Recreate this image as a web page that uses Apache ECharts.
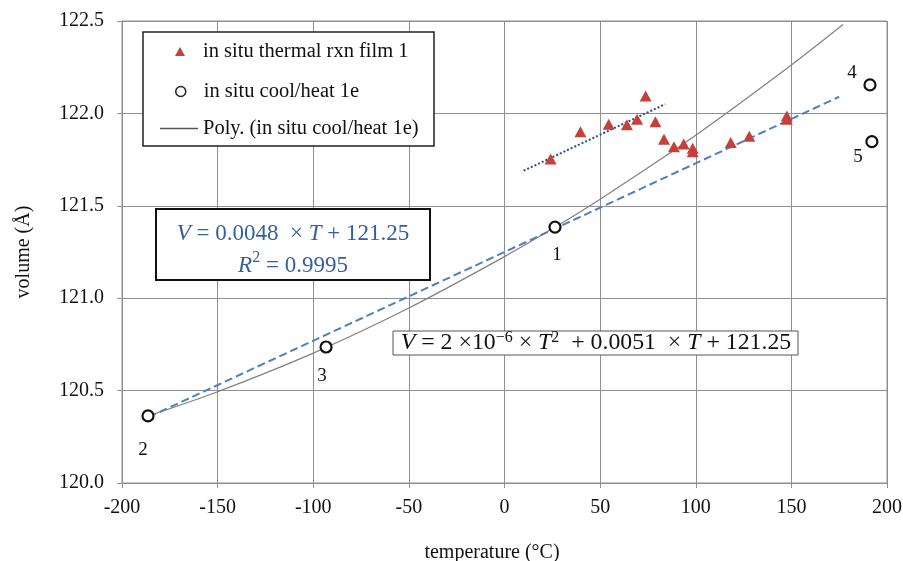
<!DOCTYPE html>
<html>
<head>
<meta charset="utf-8">
<script src="https://cdn.jsdelivr.net/npm/echarts@6/dist/echarts.min.js"></script>
<style>
  html, body { margin: 0; padding: 0; background: #fff; }
  #chart { width: 903px; height: 561px; }
</style>
</head>
<body>
<div id="chart"></div>
<script>
// In situ thermal reaction film 1: temperature (°C) and unit-cell volume (Å^3)
const rxnT = [24.1, 39.7, 54.5, 64.0, 69.3, 73.8, 78.9, 83.4, 88.6, 93.7, 98.4, 98.4, 118.3, 128.0, 147.6, 147.6];
const rxnV = [121.753, 121.901, 121.941, 121.939, 121.968, 122.094, 121.955, 121.860, 121.820, 121.834, 121.811, 121.793, 121.842, 121.876, 121.986, 121.968];

// In situ cool/heat 1e, numbered in measurement order
const coolT = [26.4, -186.4, -93.3, 191.1, 192.1];
const coolV = [121.385, 120.363, 120.736, 122.154, 121.847];
const coolIds = ['1', '2', '3', '4', '5'];

// Polynomial trend line through the cool/heat points
const polyT = [-186, -150, -100, -50, 0, 26, 50, 100, 150, 177];
const polyV = [120.364, 120.494, 120.703, 120.947, 121.225, 121.382, 121.536, 121.882, 122.262, 122.481];

// Linear fit, V = 0.0048 T + 121.25
const linT = [-186, 175];
const linV = [120.357, 122.09];

// Linear trend of the reaction film points
const dotT = [10, 84];
const dotV = [121.69, 122.05];

const xTicks = [-200, 200, 50];
const yTicks = [120, 122.5, 0.5];

const seriesNames = ['in situ thermal rxn film 1', 'in situ cool/heat 1e', 'Poly. (in situ cool/heat 1e)'];

// label placement around each numbered point (pixels)
const idOffsets = [[2, 28], [-5, 34], [-4, 29], [-18, -12], [-14, 15]];

const zip = (a, b) => a.map((v, i) => [v, b[i]]);
const serif = "'Liberation Serif', 'Times New Roman', serif";
const gridColor = '#8f8f8f';
const ink = '#111111';
const red = '#c4403b';

const chart = echarts.init(document.getElementById('chart'), null, { renderer: 'canvas' });

const legendText = { fontFamily: serif, fontSize: 20.5, color: ink, lineHeight: 20 };

chart.setOption({
  animation: false,
  backgroundColor: '#ffffff',
  grid: {
    left: 122, right: 16, top: 21, bottom: 78, outerBoundsMode: 'none',
    show: true, borderColor: gridColor, borderWidth: 1, backgroundColor: 'transparent'
  },
  xAxis: {
    type: 'value', min: xTicks[0], max: xTicks[1], interval: xTicks[2],
    name: 'temperature (°C)', nameLocation: 'middle', nameGap: 60,
    nameTextStyle: { fontFamily: serif, fontSize: 20, color: ink, padding: [0, 25, 0, 0] },
    axisLine: { show: true, onZero: false, lineStyle: { color: gridColor, width: 1 } },
    axisTick: { show: true, inside: false, length: 5, lineStyle: { color: gridColor } },
    axisLabel: { fontFamily: serif, fontSize: 20, color: ink, margin: 15 },
    splitLine: { show: true, lineStyle: { color: gridColor, width: 1 } }
  },
  yAxis: {
    type: 'value', min: yTicks[0], max: yTicks[1], interval: yTicks[2],
    name: 'volume (Å)', nameLocation: 'middle', nameGap: 88, nameRotate: 90,
    nameTextStyle: { fontFamily: serif, fontSize: 20, color: ink },
    axisLine: { show: true, onZero: false, lineStyle: { color: gridColor, width: 1 } },
    axisTick: { show: true, inside: false, length: 5, lineStyle: { color: gridColor } },
    axisLabel: { fontFamily: serif, fontSize: 20, color: ink, margin: 18, formatter: v => v.toFixed(1) },
    splitLine: { show: true, lineStyle: { color: gridColor, width: 1 } }
  },
  legend: [
    {
      data: [seriesNames[0]], left: 175, top: 41, padding: 0, icon: 'triangle',
      itemWidth: 10, itemHeight: 9, selectedMode: false,
      itemStyle: { color: red, opacity: 1 },
      textStyle: Object.assign({ padding: [0, 0, 0, 13] }, legendText)
    },
    {
      data: [seriesNames[1]], left: 175, top: 81, padding: 0, icon: 'circle',
      itemWidth: 10, itemHeight: 10, selectedMode: false,
      itemStyle: { color: '#ffffff', borderColor: '#222', borderWidth: 1.5, opacity: 1 },
      textStyle: Object.assign({ padding: [0, 0, 0, 13] }, legendText)
    },
    {
      data: [seriesNames[2]], left: 160, top: 118, padding: 0, icon: 'rect',
      itemWidth: 38, itemHeight: 1.5, selectedMode: false,
      itemStyle: { color: '#555555', borderWidth: 0 },
      textStyle: Object.assign({ padding: [0, 0, 0, 0] }, legendText)
    }
  ],
  graphic: [
    { type: 'rect', z: 3, shape: { x: 143, y: 32, width: 291, height: 114 },
      style: { fill: '#fff', stroke: '#222', lineWidth: 1.5 } },
    { type: 'rect', z: 3, shape: { x: 156, y: 209, width: 274, height: 71 },
      style: { fill: '#fff', stroke: '#111', lineWidth: 2 } },
    { type: 'text', z: 4, x: 293, y: 250,
      style: {
        text: '{i|V} = 0.0048  × {i|T} + 121.25\n{i|R}{s|2} = 0.9995',
        x: 0, y: 0, align: 'center', verticalAlign: 'middle',
        fontFamily: serif, fontSize: 23, fill: '#34609e', lineHeight: 32,
        rich: {
          i: { fontFamily: serif, fontSize: 23, fontStyle: 'italic', fill: '#34609e' },
          s: { fontFamily: serif, fontSize: 16, fill: '#34609e', verticalAlign: 'top', padding: [0, 0, 10, 0] }
        }
      } },
    { type: 'rect', z: 3, shape: { x: 393, y: 331, width: 405, height: 24 },
      style: { fill: '#fff', stroke: '#555', lineWidth: 1 } },
    { type: 'text', z: 4, x: 596, y: 343,
      style: {
        text: '{i|V} = 2 ×10{s|−6} × {i|T}{s|2}  + 0.0051  × {i|T} + 121.25',
        x: 0, y: 0, align: 'center', verticalAlign: 'middle',
        fontFamily: serif, fontSize: 23.8, fill: ink,
        rich: {
          i: { fontFamily: serif, fontSize: 23.8, fontStyle: 'italic', fill: ink },
          s: { fontFamily: serif, fontSize: 16, fill: ink, verticalAlign: 'top', padding: [0, 0, 10, 0] }
        }
      } }
  ],
  series: [
    {
      name: seriesNames[2], type: 'line', data: zip(polyT, polyV), smooth: 0.3,
      symbol: 'none', z: 2,
      lineStyle: { color: '#808080', width: 1.2 }
    },
    {
      name: 'linear fit', type: 'line', data: zip(linT, linV),
      symbol: 'none', z: 2,
      lineStyle: { color: '#4f81bd', width: 2, type: [8, 4] }
    },
    {
      name: 'film trend', type: 'line', data: zip(dotT, dotV),
      symbol: 'none', z: 2,
      lineStyle: { color: '#2a4d8f', width: 2, type: [2, 2] }
    },
    {
      name: seriesNames[0], type: 'scatter', data: zip(rxnT, rxnV),
      symbol: 'triangle', symbolSize: [12, 11], z: 5,
      itemStyle: { color: red, opacity: 1 }
    },
    {
      name: seriesNames[1], type: 'scatter', z: 5,
      symbol: 'circle', symbolSize: 11,
      itemStyle: { color: '#ffffff', borderColor: '#111', borderWidth: 2.2, opacity: 1 },
      data: coolT.map((t, i) => ({
        value: [t, coolV[i]],
        label: {
          show: true, formatter: coolIds[i], position: 'inside', offset: idOffsets[i],
          fontFamily: serif, fontSize: 19, color: ink, textBorderWidth: 0, opacity: 1
        }
      }))
    }
  ]
});
</script>
</body>
</html>
